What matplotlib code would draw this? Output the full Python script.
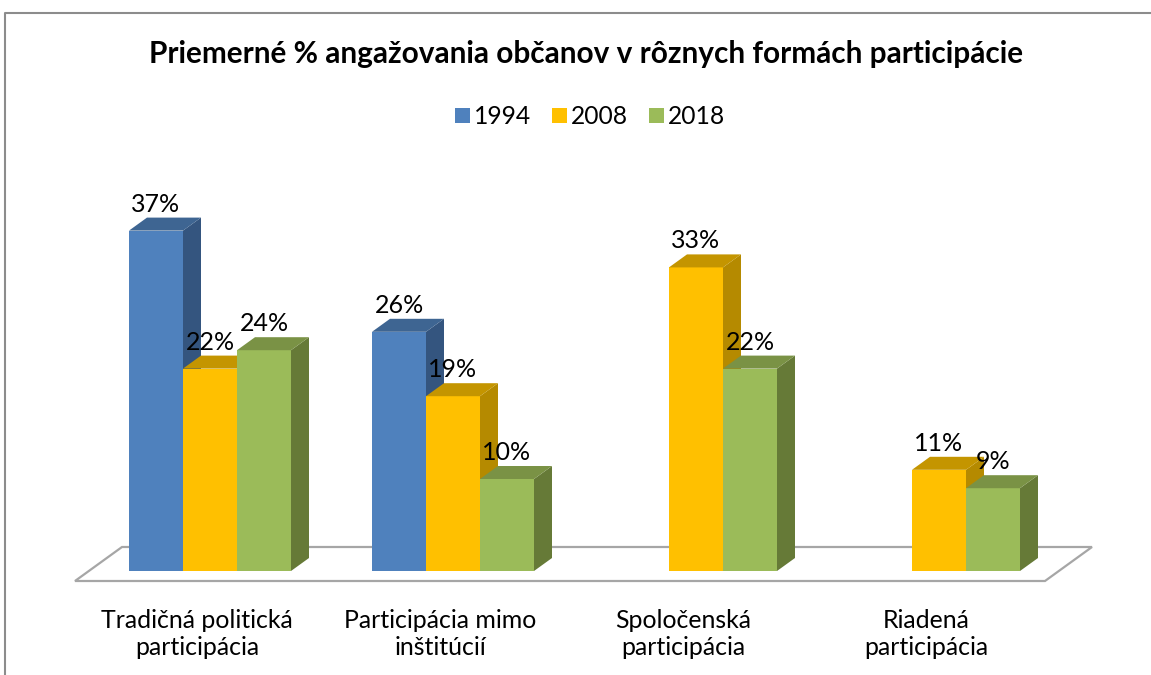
import numpy as np
import matplotlib
matplotlib.use("Agg")
import matplotlib.pyplot as plt
from matplotlib.patches import Polygon, Patch
from matplotlib.lines import Line2D

# ---------------- data ----------------
categories = ["Tradičná politická\nparticipácia", "Participácia mimo\ninštitúcií",
              "Spoločenská\nparticipácia", "Riadená\nparticipácia"]
series_names = ["1994", "2008", "2018"]
values_1994 = [37, 26, np.nan, np.nan]
values_2008 = [22, 19, 33, 11]
values_2018 = [24, 10, 22, 9]
title = "Priemerné % angažovania občanov v rôznych formách participácie"

series_values = [values_1994, values_2008, values_2018]
front_colors = ["#4F81BD", "#FFC000", "#9BBB59"]
side_colors = ["#34557F", "#B58A00", "#667A37"]
top_colors = ["#3E6592", "#C49500", "#7A9245"]

FONT = ["Lato", "DejaVu Sans"]
plt.rcParams["font.family"] = FONT

W, H = 1151, 675
fig = plt.figure(figsize=(W / 100, H / 100), dpi=100)
ax = fig.add_axes([0, 0, 1, 1])

# scale: pixels per category and per percent point
px_per_group = 243.0
px_per_pct = 9.2
x0_px = 210.0
y0_px = 571.0
ax.set_xlim(-x0_px / px_per_group, (W - x0_px) / px_per_group)
ax.set_ylim(-(H - y0_px) / px_per_pct, y0_px / px_per_pct)
ax.axis("off")

bar_w = 54 / px_per_group
dx = 18 / px_per_group
dy = 13 / px_per_pct
n = len(categories)

# floor
f_front = -10 / px_per_pct
f_back = 24 / px_per_pct
f_left = -1.5 * bar_w - 54 / px_per_group
f_right = (n - 1) + 1.5 * bar_w + 25 / px_per_group
f_dx = 47 / px_per_group
floor = Polygon([(f_left, f_front), (f_right, f_front), (f_right + f_dx, f_back),
                 (f_left + f_dx, f_back)], closed=True, facecolor="white",
                edgecolor="#A6A6A6", lw=1.6, zorder=1)
ax.add_patch(floor)

z = 2
for i in range(n):
    for j, vals in enumerate(series_values):
        v = vals[i]
        if np.isnan(v):
            continue
        xl = i - 1.5 * bar_w + j * bar_w
        xr = xl + bar_w
        ax.bar(xl, v, width=bar_w, align="edge", bottom=0, color=front_colors[j],
               edgecolor="none", zorder=z)
        side = Polygon([(xr, 0), (xr + dx, dy), (xr + dx, v + dy), (xr, v)], closed=True,
                       facecolor=side_colors[j], edgecolor="none", zorder=z)
        top = Polygon([(xl, v), (xl + dx, v + dy), (xr + dx, v + dy), (xr, v)], closed=True,
                      facecolor=top_colors[j], edgecolor="none", zorder=z)
        ax.add_patch(side)
        ax.add_patch(top)
        z += 1

# value labels (on top)
for i in range(n):
    for j, vals in enumerate(series_values):
        v = vals[i]
        if np.isnan(v):
            continue
        xl = i - 1.5 * bar_w + j * bar_w
        ax.text(xl + bar_w / 2, v + 19 / px_per_pct, f"{v:.0f}%",
                ha="center", va="baseline", fontsize=18, color="black", zorder=100)

# category labels
for i, c in enumerate(categories):
    ax.text(i - 13 / px_per_group, (y0_px - 655) / px_per_pct, c, ha="center",
            va="baseline", fontsize=17.9, linespacing=1.2, color="black")

# title
fig.text(586 / W, 1 - 63 / H, title, ha="center", va="baseline", fontsize=21.4,
         fontweight="bold")

# legend
handles = [Patch(facecolor=front_colors[j], edgecolor="none") for j in range(3)]
fig.legend(handles, series_names, loc="center", bbox_to_anchor=(590 / W, 1 - 117 / H),
           ncol=3, frameon=False, fontsize=17.7, handlelength=0.61, handleheight=0.57,
           handletextpad=0.15, columnspacing=0.85, borderpad=0, borderaxespad=0)

# chart border (top and left visible)
fig.add_artist(Line2D([5 / W, 5 / W, 1.0], [0.0, 1 - 13 / H, 1 - 13 / H],
                      transform=fig.transFigure, color="#8C8C8C", lw=1.5))

fig.savefig("out.png", dpi=100)
